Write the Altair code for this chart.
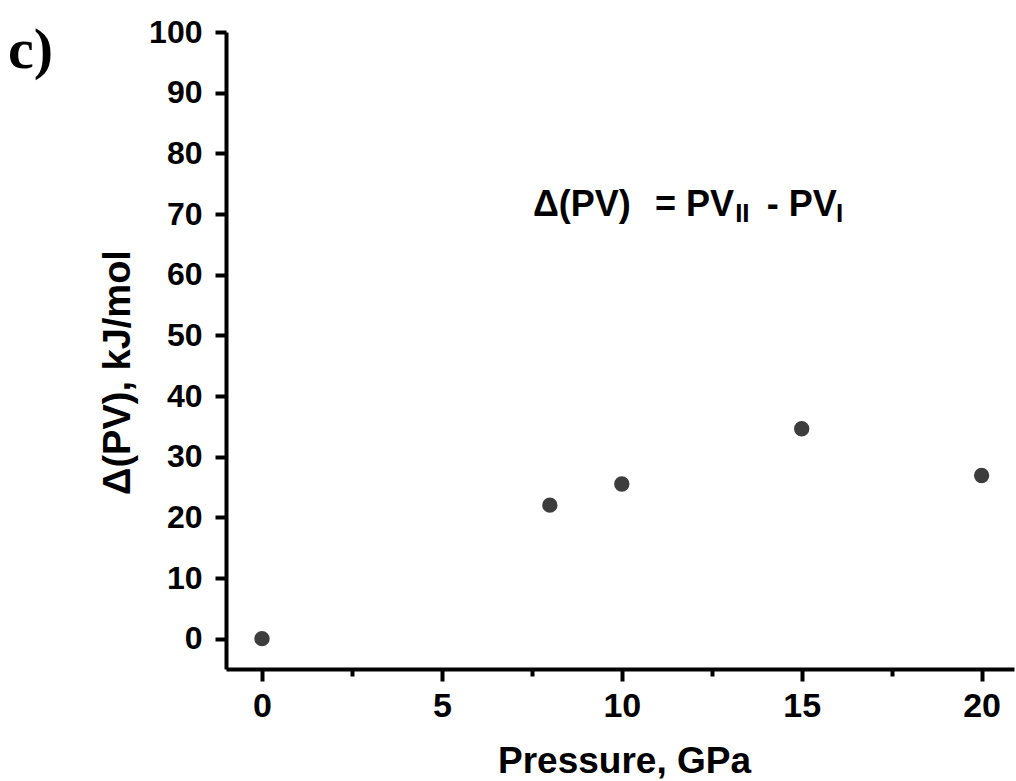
import altair as alt
import pandas as pd

# data
pressure = [0, 8, 10, 15, 20]
dpv = [0.0, 22.0, 25.5, 34.6, 26.9]

x_ticks = [0, 2.5, 5, 7.5, 10, 12.5, 15, 17.5, 20]
y_ticks = list(range(0, 101, 5))

# annotation pieces: Δ(PV) = PV_II - PV_I
ann_text = ["Δ(PV)", "= PV", "II", "- PV", "I"]
ann_x = [7.53, 10.92, 13.15, 14.03, 15.95]
ann_y = [69.6, 69.6, 68.6, 69.6, 68.6]
ann_size = [36, 36, 26, 36, 26]

panel_label = ["c)"]

df = pd.DataFrame({"p": pressure, "dpv": dpv})
ann = pd.DataFrame({"t": ann_text, "x": ann_x, "y": ann_y, "s": ann_size})
lab = pd.DataFrame({"t": panel_label})

FONT = "Liberation Sans"

x_enc = alt.X(
    "p:Q",
    scale=alt.Scale(domain=[-1, 20.9], nice=False, zero=False),
    axis=alt.Axis(
        values=x_ticks,
        title="Pressure, GPa",
        labelExpr="datum.value % 5 === 0 ? datum.label : ''",
        tickSize={"condition": {"test": "datum.value % 5 === 0", "value": 12}, "value": 7},
        labelPadding=8,
        labelFontSize=34,
        titleX=398,
        titleY=103,
        titleBaseline="alphabetic",
        titleFontSize=37,
    ),
)
y_enc = alt.Y(
    "dpv:Q",
    scale=alt.Scale(domain=[-5, 100], nice=False, zero=False),
    axis=alt.Axis(
        values=y_ticks,
        title="Δ(PV), kJ/mol",
        labelExpr="datum.value % 10 === 0 ? datum.label : ''",
        tickSize={"condition": {"test": "datum.value % 10 === 0", "value": 11}, "value": 7},
        labelPadding=13,
        labelFontSize=32,
        titleAngle=270,
        titleX=-97,
        titleY=340,
        titleAlign="center",
        titleBaseline="alphabetic",
        titleFontSize=38,
    ),
)

points = alt.Chart(df).mark_circle(size=235, color="#3d3d3d", opacity=1).encode(x=x_enc, y=y_enc)

texts = alt.Chart(ann).mark_text(
    align="left", baseline="alphabetic", font=FONT, fontWeight="bold", color="black"
).encode(
    x=alt.X("x:Q"),
    y=alt.Y("y:Q"),
    text="t:N",
    size=alt.Size("s:Q", scale=None, legend=None),
)

label = alt.Chart(lab).mark_text(
    align="left", baseline="alphabetic", font="Liberation Serif", fontWeight="bold",
    fontSize=58, color="black"
).encode(text="t:N", x=alt.value(-218), y=alt.value(36))

chart = alt.layer(points, texts, label).properties(
    width=788,
    height=637,
    autosize=alt.AutoSizeParams(type="none"),
    padding={"left": 226, "top": 32, "right": 2, "bottom": 110},
    background="white",
).configure_view(stroke=None).configure_axis(
    domainColor="black",
    domainWidth=4,
    tickColor="black",
    tickWidth=4,
    grid=False,
    labelFont=FONT,
    labelFontWeight="bold",
    labelColor="black",
    titleFont=FONT,
    titleFontWeight="bold",
    titleColor="black",
    labelOverlap=False,
)

chart.save("out.html", embed_options={"renderer": "svg", "actions": False})
